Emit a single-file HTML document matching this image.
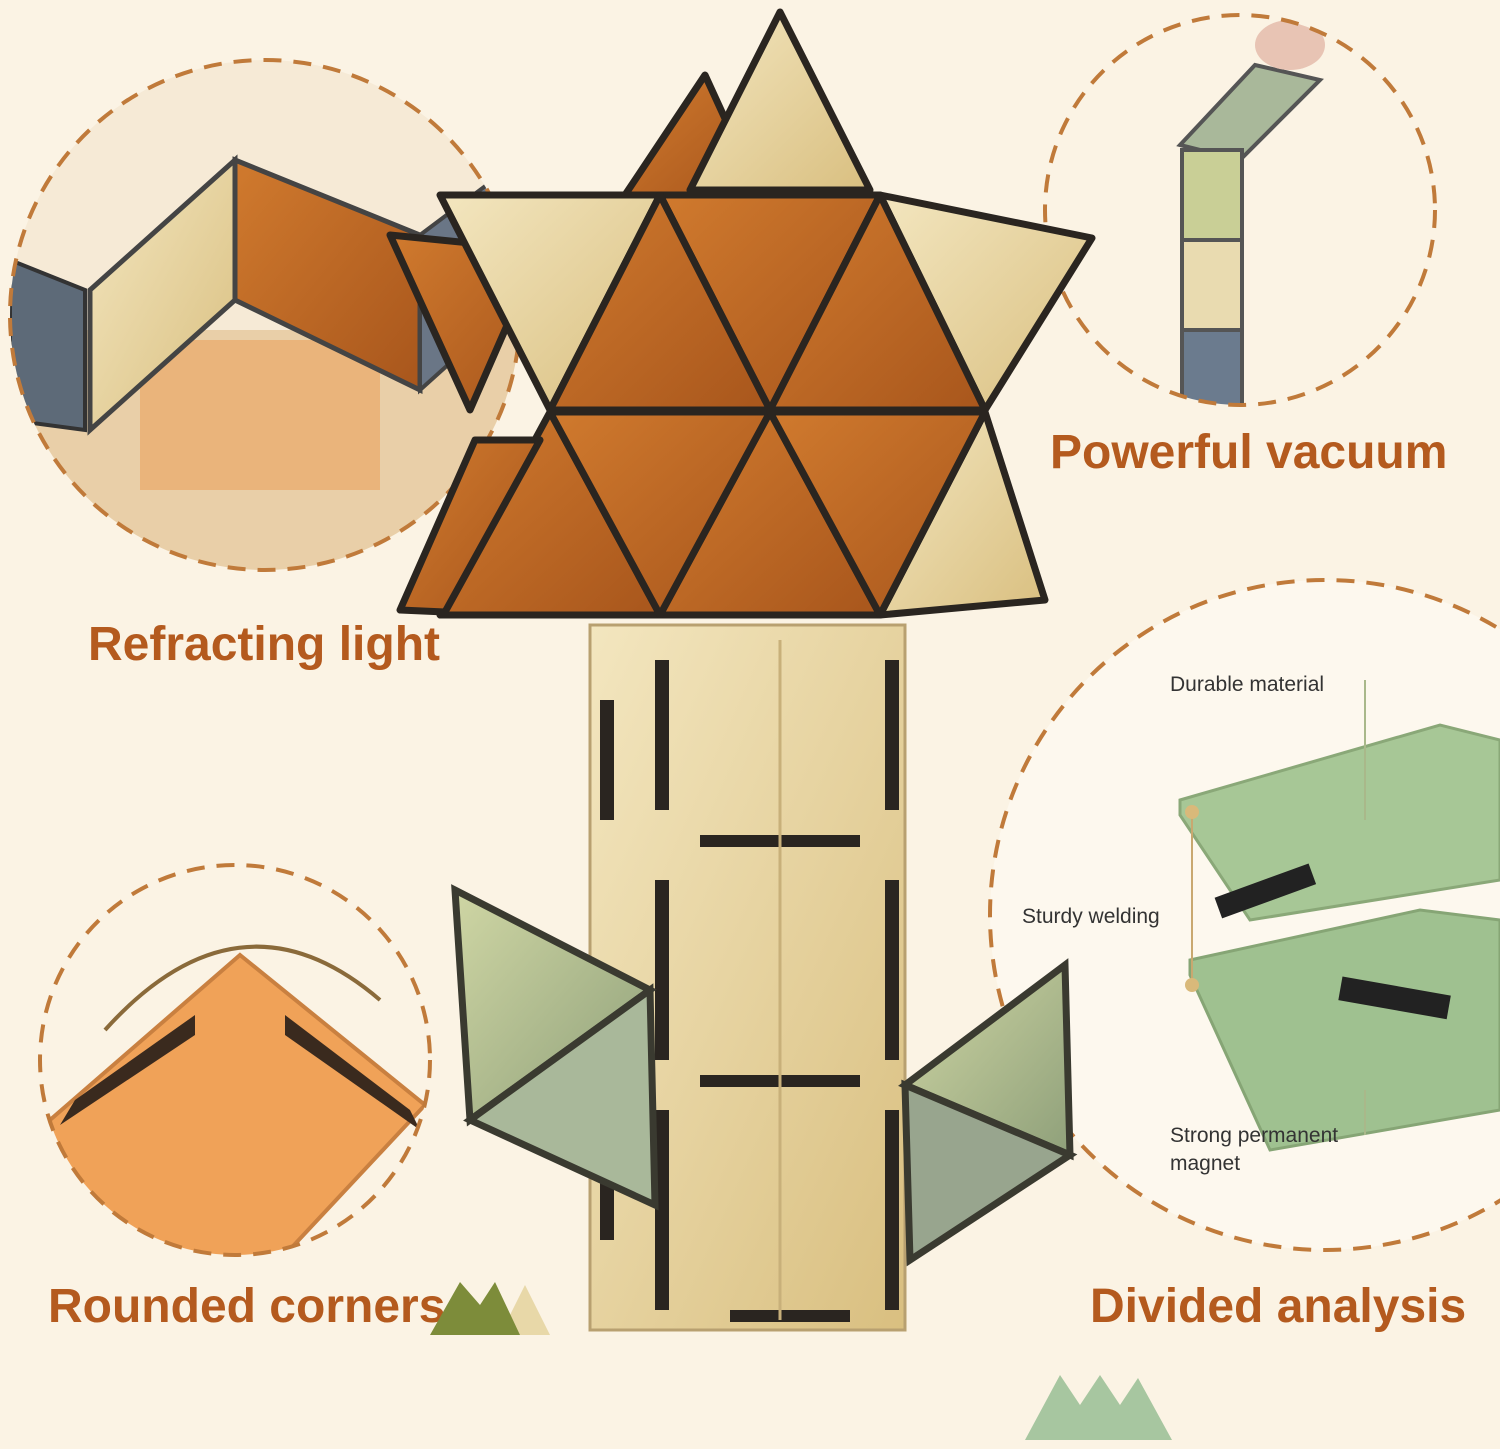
<!DOCTYPE html>
<html><head><meta charset="utf-8"><style>
body{margin:0;background:#fbf3e4;}
svg{display:block}
.lbl{font-family:"Liberation Sans",sans-serif;font-weight:bold;fill:#b45a1e;font-size:48px}
.sm{font-family:"Liberation Sans",sans-serif;fill:#333;font-size:21px}
</style></head><body>
<svg width="1500" height="1449" viewBox="0 0 1500 1449" xmlns="http://www.w3.org/2000/svg">
<defs>
<clipPath id="c1"><circle cx="265" cy="315" r="255"/></clipPath>
<clipPath id="c2"><circle cx="1240" cy="210" r="195"/></clipPath>
<clipPath id="c4"><circle cx="235" cy="1060" r="195"/></clipPath>
<linearGradient id="og" x1="0" y1="0" x2="1" y2="1"><stop offset="0" stop-color="#d07a2e"/><stop offset="1" stop-color="#a8561c"/></linearGradient>
<linearGradient id="pg" x1="0" y1="0" x2="1" y2="1"><stop offset="0" stop-color="#f3e6bf"/><stop offset="1" stop-color="#d9bf80"/></linearGradient>
<linearGradient id="gg" x1="0" y1="0" x2="1" y2="1"><stop offset="0" stop-color="#cfd6a4"/><stop offset="1" stop-color="#8fa07a"/></linearGradient>
</defs>
<rect width="1500" height="1449" fill="#fbf3e4"/>

<g clip-path="url(#c1)">
<rect x="0" y="50" width="530" height="530" fill="#f6ead6"/>
<rect x="0" y="330" width="530" height="250" fill="#e9cfa8"/>
<rect x="140" y="340" width="240" height="150" fill="#eaa868" opacity=".7"/>
<polygon points="10,260 85,290 85,430 10,420" fill="#5d6a78" stroke="#333" stroke-width="4"/>
<polygon points="90,290 235,160 235,300 90,430" fill="url(#pg)" stroke="#444" stroke-width="5"/>
<polygon points="235,160 420,235 420,390 235,300" fill="url(#og)" stroke="#444" stroke-width="5"/>
<polygon points="420,235 520,160 520,300 420,390" fill="#6a7686" stroke="#444" stroke-width="4"/>
</g>
<circle cx="265" cy="315" r="255" fill="none" stroke="#c07a3a" stroke-width="4" stroke-dasharray="18 12"/>

<g clip-path="url(#c2)">
<rect x="1040" y="10" width="400" height="400" fill="#fbf3e4"/>
<polygon points="1180,145 1255,65 1320,80 1240,160" fill="#a9b89a" stroke="#555" stroke-width="4"/>
<rect x="1182" y="150" width="60" height="90" fill="#c9cf96" stroke="#555" stroke-width="4"/>
<rect x="1182" y="240" width="60" height="90" fill="#e9dbb0" stroke="#555" stroke-width="4"/>
<rect x="1182" y="330" width="60" height="80" fill="#6b7b8e" stroke="#555" stroke-width="4"/>
<ellipse cx="1290" cy="45" rx="35" ry="25" fill="#e8c4b4"/>
</g>
<circle cx="1240" cy="210" r="195" fill="none" stroke="#c07a3a" stroke-width="4" stroke-dasharray="18 12"/>

<circle cx="1325" cy="915" r="335" fill="#fdf8ee" stroke="#c07a3a" stroke-width="4" stroke-dasharray="18 12"/>
<polygon points="1180,800 1440,725 1500,740 1500,880 1250,920 1180,815" fill="#a7c796" stroke="#8aa878" stroke-width="3"/>
<polygon points="1190,960 1420,910 1500,920 1500,1110 1270,1150 1190,975" fill="#9fc190" stroke="#86a575" stroke-width="3"/>
<rect x="1215" y="880" width="100" height="22" fill="#222" transform="rotate(-20 1265 890)"/>
<rect x="1340" y="985" width="110" height="24" fill="#222" transform="rotate(10 1390 995)"/>
<line x1="1365" y1="680" x2="1365" y2="820" stroke="#a9b88a" stroke-width="2"/>
<line x1="1365" y1="1090" x2="1365" y2="1135" stroke="#a9b88a" stroke-width="2"/>
<line x1="1192" y1="815" x2="1192" y2="985" stroke="#c9a870" stroke-width="2"/>
<circle cx="1192" cy="812" r="7" fill="#d9b97a"/><circle cx="1192" cy="985" r="7" fill="#d9b97a"/>
<text class="sm" x="1170" y="691">Durable material</text>
<text class="sm" x="1022" y="923">Sturdy welding</text>
<text class="sm" x="1170" y="1142">Strong permanent</text>
<text class="sm" x="1170" y="1170">magnet</text>

<g clip-path="url(#c4)">
<rect x="30" y="860" width="420" height="400" fill="#fbf3e4"/>
<polygon points="240,955 425,1105 280,1260 60,1260 50,1120" fill="#f0a258" stroke="#c98040" stroke-width="4"/>
<polygon points="195,1015 75,1100 60,1125 195,1035" fill="#3a2a1e"/>
<polygon points="285,1015 410,1110 420,1130 285,1035" fill="#3a2a1e"/>
<path d="M105,1030 Q240,880 380,1000" fill="none" stroke="#8a6a3a" stroke-width="4"/>
</g>
<circle cx="235" cy="1060" r="195" fill="none" stroke="#c07a3a" stroke-width="4" stroke-dasharray="18 12"/>

<rect x="590" y="625" width="315" height="705" fill="url(#pg)" stroke="#b8a070" stroke-width="3"/>
<g fill="#2a2520">
<rect x="655" y="660" width="14" height="150"/><rect x="885" y="660" width="14" height="150"/>
<rect x="655" y="880" width="14" height="180"/><rect x="885" y="880" width="14" height="180"/>
<rect x="655" y="1110" width="14" height="200"/><rect x="885" y="1110" width="14" height="200"/>
<rect x="600" y="700" width="14" height="120"/><rect x="600" y="1120" width="14" height="120"/>
<rect x="700" y="835" width="160" height="12"/><rect x="700" y="1075" width="160" height="12"/>
<rect x="730" y="1310" width="120" height="12"/>
</g>
<line x1="780" y1="640" x2="780" y2="1320" stroke="#c8b07a" stroke-width="3"/>

<polygon points="455,890 650,990 470,1120" fill="url(#gg)" stroke="#3a3a30" stroke-width="7"/>
<polygon points="650,990 655,1205 470,1120" fill="#a9b89a" stroke="#3a3a30" stroke-width="7"/>
<polygon points="905,1085 1065,965 1070,1155" fill="url(#gg)" stroke="#3a3a30" stroke-width="7"/>
<polygon points="905,1085 1070,1155 910,1260" fill="#98a58e" stroke="#3a3a30" stroke-width="7"/>

<g stroke="#2a2520" stroke-width="7" stroke-linejoin="round">
<polygon points="705,75 625,195 760,195" fill="url(#og)"/>
<polygon points="780,12 690,190 870,190" fill="url(#pg)"/>
<polygon points="390,235 470,410 540,250" fill="url(#og)"/>
<polygon points="440,195 660,195 550,410" fill="url(#pg)"/>
<polygon points="660,195 880,195 770,410" fill="url(#og)"/>
<polygon points="880,195 1092,238 985,410" fill="url(#pg)"/>
<polygon points="660,195 550,410 770,410" fill="url(#og)"/>
<polygon points="880,195 770,410 985,410" fill="url(#og)"/>
<polygon points="550,412 440,615 660,615" fill="url(#og)"/>
<polygon points="770,412 660,615 880,615" fill="url(#og)"/>
<polygon points="985,412 880,615 1045,600" fill="url(#pg)"/>
<polygon points="550,412 770,412 660,615" fill="url(#og)"/>
<polygon points="770,412 985,412 880,615" fill="url(#og)"/>
<polygon points="475,440 400,610 445,612 540,440" fill="url(#og)"/>
</g>

<text class="lbl" x="88" y="660">Refracting light</text>
<text class="lbl" x="1050" y="468">Powerful vacuum</text>
<text class="lbl" x="48" y="1322">Rounded corners</text>
<text class="lbl" x="1090" y="1322">Divided analysis</text>

<polygon points="500,1335 525,1285 550,1335" fill="#e8d8a8"/>
<polygon points="430,1335 460,1282 480,1305 495,1282 520,1335" fill="#7d8c3a"/>
<polygon points="1025,1440 1060,1375 1080,1405 1100,1375 1120,1405 1138,1378 1172,1440" fill="#a7c6a0"/>
</svg>
</body></html>
